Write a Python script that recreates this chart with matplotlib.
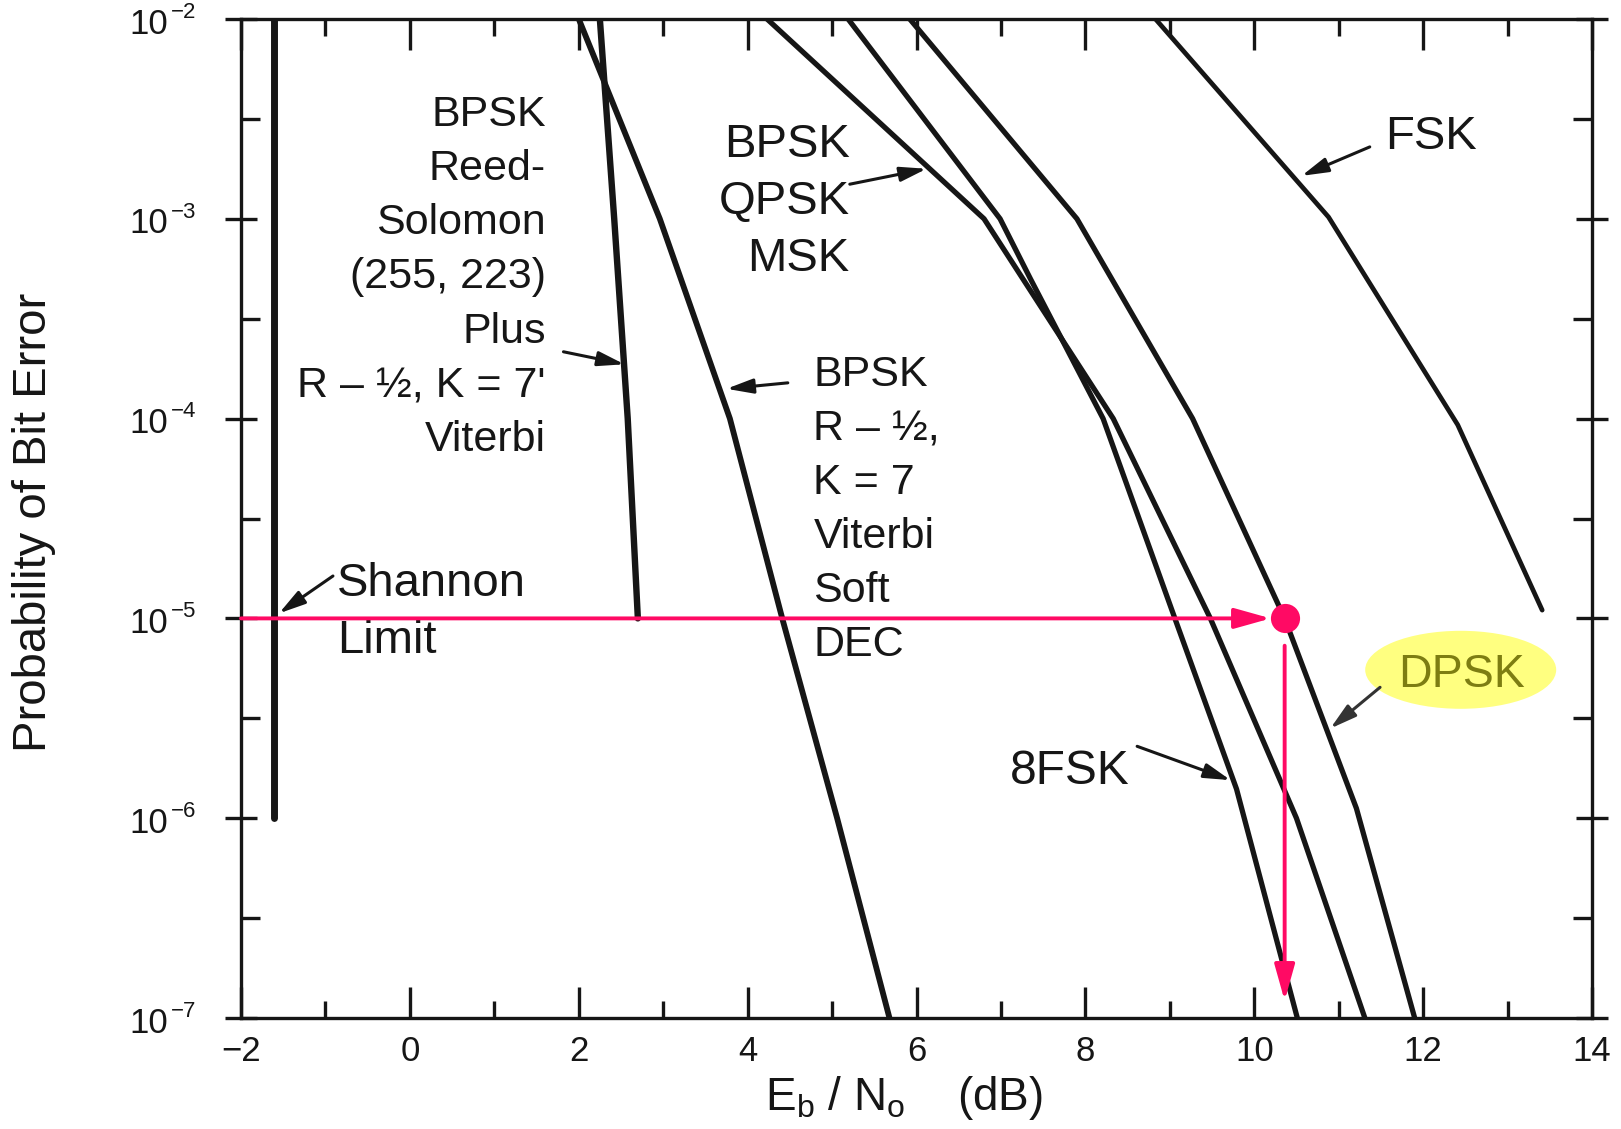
import matplotlib
matplotlib.use('Agg')
import matplotlib.pyplot as plt
from matplotlib.ticker import FixedLocator, FixedFormatter, NullFormatter
from matplotlib.patches import Ellipse
from matplotlib.transforms import ScaledTranslation

plt.rcParams['font.family'] = ['Liberation Sans', 'DejaVu Sans']
plt.rcParams['mathtext.fontset'] = 'custom'
plt.rcParams['mathtext.rm'] = 'Liberation Sans'
plt.rcParams['mathtext.it'] = 'Liberation Sans:italic'
plt.rcParams['mathtext.bf'] = 'Liberation Sans:bold'
plt.rcParams['mathtext.sf'] = 'Liberation Sans'
plt.rcParams['mathtext.default'] = 'regular'

# ---------------- data (Eb/N0 in dB, bit error probability) ----------------
shannon_ebno = [-1.61, -1.61]
shannon_ber = [1e-2, 1e-6]

concat_ebno = [2.25, 2.42, 2.58, 2.70]          # BPSK RS(255,223) + R-1/2 K=7 Viterbi
concat_ber = [1e-2, 1e-3, 1e-4, 1e-5]

viterbi_ebno = [2.00, 2.96, 3.79, 4.41, 5.06, 5.68]   # BPSK R-1/2 K=7 soft Viterbi
viterbi_ber = [1e-2, 1e-3, 1e-4, 1e-5, 1e-6, 1e-7]

bpsk_ebno = [4.23, 6.80, 8.33, 9.48, 10.50, 11.31]   # BPSK / QPSK / MSK
bpsk_ber = [1e-2, 1e-3, 1e-4, 1e-5, 1e-6, 1e-7]

fsk8_ebno = [5.19, 6.99, 7.35, 8.21, 9.06, 9.79, 10.51]
fsk8_ber = [1e-2, 1e-3, 5.0e-4, 1e-4, 1e-5, 1.4e-6, 1e-7]

dpsk_ebno = [5.92, 7.90, 9.27, 10.36, 11.21, 11.90]
dpsk_ber = [1e-2, 1e-3, 1e-4, 1e-5, 1.12e-6, 1e-7]

fsk_ebno = [8.83, 10.88, 12.41, 13.41]
fsk_ber = [1e-2, 1.02e-3, 9.3e-5, 1.1e-5]

dpsk_target_ber = 1e-5
dpsk_required_ebno = 10.36

xtick_vals = [-2, 0, 2, 4, 6, 8, 10, 12, 14]
xtick_labels = ['\u22122', '0', '2', '4', '6', '8', '10', '12', '14']
xminor_vals = [-1, 1, 3, 5, 7, 9, 11, 13]
ytick_vals = [1e-7, 1e-6, 1e-5, 1e-4, 1e-3, 1e-2]
ytick_bases = ['10', '10', '10', '10', '10', '10']
ytick_exps = ['\u22127', '\u22126', '\u22125', '\u22124', '\u22123', '\u22122']
yminor_vals = [3.16e-7, 3.16e-6, 3.16e-5, 3.16e-4, 3.16e-3]

# ---------------- figure ----------------
INK = '#161616'
RED = '#FF0A64'
W, H = 1621, 1129
fig = plt.figure(figsize=(W / 100, H / 100), dpi=100)
ax = fig.add_axes([241 / W, 1 - 1018 / H, 1351 / W, 999 / H])
ax.set_yscale('log')
ax.set_xlim(-2, 14)
ax.set_ylim(1e-7, 1e-2)

for sp in ax.spines.values():
    sp.set_linewidth(2.4)
    sp.set_color(INK)

ax.xaxis.set_major_locator(FixedLocator(xtick_vals))
ax.xaxis.set_major_formatter(FixedFormatter(xtick_labels))
ax.xaxis.set_minor_locator(FixedLocator(xminor_vals))
ax.xaxis.set_minor_formatter(NullFormatter())
ax.yaxis.set_major_locator(FixedLocator(ytick_vals))
ax.yaxis.set_major_formatter(NullFormatter())
ax.yaxis.set_minor_locator(FixedLocator(yminor_vals))
ax.yaxis.set_minor_formatter(NullFormatter())

ax.tick_params(axis='x', which='major', direction='in', length=22, width=2.4,
               top=True, bottom=True, labelsize=25, pad=12, colors=INK)
ax.tick_params(axis='x', which='minor', direction='in', length=12, width=2.4,
               top=True, bottom=True, colors=INK)
ax.tick_params(axis='y', which='major', direction='inout', length=23, width=2.4,
               left=True, right=True, colors=INK)
ax.tick_params(axis='y', which='minor', direction='in', length=14, width=2.4,
               left=True, right=True, colors=INK)

# y tick labels: "10" with a superscript exponent
ytrans = ax.get_yaxis_transform()
for val, base, ex in zip(ytick_vals, ytick_bases, ytick_exps):
    ax.annotate(base, xy=(0, val), xycoords=ytrans, xytext=(-52.5, -10.5),
                textcoords='offset points', ha='right', va='baseline', fontsize=25,
                color=INK, annotation_clip=False)
    ax.annotate(ex, xy=(0, val), xycoords=ytrans, xytext=(-50.5, 0.8),
                textcoords='offset points', ha='left', va='baseline', fontsize=16,
                color=INK, annotation_clip=False)

# ---------------- curves ----------------
kw = dict(color=INK, solid_capstyle='round', solid_joinstyle='round', zorder=3)
ax.plot(shannon_ebno, shannon_ber, lw=5.0, **kw)
ax.plot(concat_ebno, concat_ber, lw=4.6, **kw)
ax.plot(viterbi_ebno, viterbi_ber, lw=4.2, **kw)
ax.plot(bpsk_ebno, bpsk_ber, lw=3.8, **kw)
ax.plot(fsk8_ebno, fsk8_ber, lw=3.8, **kw)
ax.plot(dpsk_ebno, dpsk_ber, lw=3.8, **kw)
ax.plot(fsk_ebno, fsk_ber, lw=3.4, **kw)

# ---------------- labels ----------------
def block(lines, x, y, ha, size, spacing_pt, color=INK):
    for i, s in enumerate(lines):
        ax.annotate(s, xy=(x, y), xytext=(0, -i * spacing_pt), textcoords='offset points',
                    ha=ha, va='baseline', fontsize=size, color=color,
                    annotation_clip=False, zorder=6)

block(['BPSK', 'Reed-', 'Solomon', '(255, 223)', 'Plus', "R \u2013 \u00bd, K = 7'", 'Viterbi'],
      1.61, 2.93e-3, 'right', 31, 39.1)
block(['BPSK', 'QPSK', 'MSK'], 5.21, 2.03e-3, 'right', 34, 41)
block(['BPSK', 'R \u2013 \u00bd,', 'K = 7', 'Viterbi', 'Soft', 'DEC'], 4.78, 1.45e-4, 'left', 31, 38.9)
block(['Shannon', 'Limit'], -0.862, 1.30e-5, 'left', 34, 41)
block(['FSK'], 11.55, 2.23e-3, 'left', 34, 0)
block(['8FSK'], 7.108, 1.48e-6, 'left', 34.5, 0)

# DPSK highlighted label
ell = Ellipse((0, 0), width=1.91, height=0.78,
              transform=fig.dpi_scale_trans + ScaledTranslation(12.445, 5.53e-6, ax.transData),
              facecolor='#FFFF80', edgecolor='none', zorder=5)
ax.add_patch(ell)
block(['DPSK'], 11.70, 4.52e-6, 'left', 33.5, 0, color='#7D7D12')

def arrow(tail, tip, color=INK):
    ax.annotate('', xy=tip, xytext=tail,
                arrowprops=dict(arrowstyle='-|>,head_length=0.8,head_width=0.22', color=color,
                                lw=2.2, mutation_scale=20, shrinkA=0, shrinkB=0),
                zorder=6)

arrow((-0.911, 1.63e-5), (-1.55, 1.06e-5))
arrow((1.819, 2.16e-4), (2.541, 1.87e-4))
arrow((4.476, 1.51e-4), (3.75, 1.41e-4))
arrow((5.21, 1.49e-3), (6.12, 1.78e-3))
arrow((11.368, 2.29e-3), (10.56, 1.64e-3))
arrow((8.613, 2.29e-6), (9.72, 1.55e-6))
arrow((11.49, 4.52e-6), (10.90, 2.81e-6), color='#333333')

# ---------------- red annotation ----------------
ax.annotate('', xy=(dpsk_required_ebno, dpsk_target_ber), xytext=(-2, dpsk_target_ber),
            arrowprops=dict(arrowstyle='-|>,head_length=1.0,head_width=0.28', color=RED,
                            lw=2.8, mutation_scale=22, shrinkA=0, shrinkB=10),
            zorder=7, annotation_clip=False)
ax.annotate('', xy=(dpsk_required_ebno, 1.22e-7), xytext=(dpsk_required_ebno, 7.3e-6),
            arrowprops=dict(arrowstyle='-|>,head_length=1.0,head_width=0.28', color=RED,
                            lw=2.8, mutation_scale=22, shrinkA=0, shrinkB=0),
            zorder=7)
ax.plot([dpsk_required_ebno], [dpsk_target_ber], 'o', ms=21, color=RED, mec='none', zorder=8)

# ---------------- axis titles ----------------
fig.text(34 / W, 1 - 522 / H, 'Probability of Bit Error', rotation=90,
         ha='center', va='center', fontsize=34, color=INK)
fig.text(765 / W, 1 - 1110 / H, r'E$_{b}$ / N$_{o}$    (dB)', ha='left', va='baseline',
         fontsize=33, color=INK)

fig.savefig('out.png', dpi=100, facecolor='white')
